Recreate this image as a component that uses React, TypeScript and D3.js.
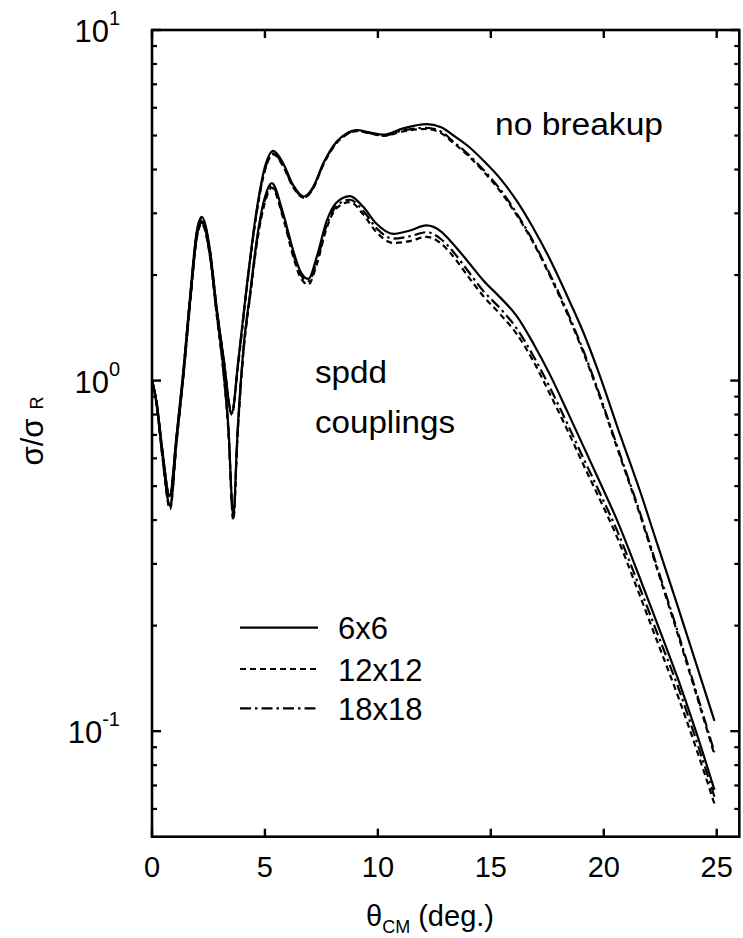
import React from 'react';
import * as d3 from 'd3';

// ---- data ----
const thetaNB = [0, 0.2, 0.45, 0.78, 1.09, 1.39, 1.68, 1.98, 2.2, 2.57, 2.86, 3.16, 3.53, 3.82, 4.19, 4.63, 5.0, 5.37, 5.81, 6.25, 6.73, 7.14, 7.58, 8.17, 8.62, 9.06, 9.65, 10.24, 11.12, 12.15, 12.8, 13.33, 14.0, 14.66, 15.4, 16.14, 16.87, 17.6, 18.35, 19.08, 19.82, 20.6, 21.6, 22.4, 23.2, 24.1, 24.9];
const nb6x6 = [1.0, 0.87, 0.64, 0.47, 0.70, 1.07, 1.72, 2.66, 2.93, 2.35, 1.62, 1.17, 0.81, 1.14, 1.85, 3.06, 4.07, 4.52, 4.16, 3.61, 3.35, 3.57, 4.16, 4.8, 5.07, 5.18, 5.1, 5.03, 5.24, 5.39, 5.28, 5.01, 4.66, 4.25, 3.78, 3.26, 2.73, 2.23, 1.76, 1.38, 1.035, 0.738, 0.485, 0.337, 0.235, 0.155, 0.107];
const nb12x12 = [1.0, 0.87, 0.635, 0.465, 0.69, 1.06, 1.70, 2.61, 2.87, 2.32, 1.6, 1.16, 0.8, 1.12, 1.82, 3.0, 3.98, 4.42, 4.08, 3.56, 3.32, 3.54, 4.12, 4.76, 5.03, 5.15, 5.07, 4.99, 5.14, 5.22, 5.08, 4.77, 4.38, 3.96, 3.48, 2.97, 2.48, 2.0, 1.57, 1.21, 0.9, 0.64, 0.415, 0.285, 0.196, 0.127, 0.0856];
const nb18x18 = [1.0, 0.87, 0.638, 0.468, 0.695, 1.065, 1.71, 2.63, 2.9, 2.33, 1.61, 1.165, 0.805, 1.13, 1.83, 3.02, 4.0, 4.45, 4.1, 3.58, 3.33, 3.55, 4.14, 4.78, 5.05, 5.16, 5.08, 5.0, 5.17, 5.26, 5.13, 4.81, 4.42, 4.0, 3.52, 3.0, 2.5, 2.02, 1.59, 1.225, 0.91, 0.648, 0.42, 0.289, 0.199, 0.129, 0.087];

const thetaSP = [0, 0.2, 0.45, 0.8, 1.09, 1.39, 1.68, 1.98, 2.2, 2.57, 2.86, 3.16, 3.38, 3.6, 3.78, 4.04, 4.34, 4.7, 5.0, 5.3, 5.81, 6.25, 6.55, 6.92, 7.29, 7.73, 8.17, 8.76, 9.35, 9.94, 10.68, 11.42, 12.15, 12.8, 13.19, 14.0, 14.67, 15.4, 16.14, 16.9, 17.6, 18.4, 19.1, 19.8, 20.6, 21.5, 22.4, 23.3, 24.1, 24.9];
const sp6x6 = [1.0, 0.86, 0.62, 0.44, 0.68, 1.04, 1.66, 2.58, 2.85, 2.28, 1.58, 1.08, 0.74, 0.41, 0.70, 1.22, 1.77, 2.68, 3.34, 3.66, 2.99, 2.35, 2.06, 1.95, 2.25, 2.85, 3.22, 3.36, 3.13, 2.8, 2.62, 2.68, 2.77, 2.66, 2.51, 2.18, 1.93, 1.73, 1.53, 1.27, 1.045, 0.813, 0.649, 0.518, 0.398, 0.284, 0.2, 0.14, 0.099, 0.068];
const sp12x12 = [1.0, 0.86, 0.615, 0.43, 0.67, 1.03, 1.64, 2.54, 2.8, 2.25, 1.55, 1.06, 0.72, 0.40, 0.68, 1.19, 1.73, 2.6, 3.22, 3.55, 2.9, 2.26, 1.98, 1.88, 2.14, 2.72, 3.1, 3.23, 2.98, 2.65, 2.47, 2.5, 2.57, 2.46, 2.32, 1.98, 1.74, 1.55, 1.36, 1.13, 0.92, 0.72, 0.575, 0.462, 0.356, 0.253, 0.178, 0.125, 0.089, 0.062];
const sp18x18 = [1.0, 0.86, 0.618, 0.435, 0.675, 1.035, 1.65, 2.56, 2.82, 2.26, 1.56, 1.07, 0.73, 0.405, 0.69, 1.2, 1.75, 2.64, 3.28, 3.6, 2.94, 2.3, 2.02, 1.92, 2.18, 2.77, 3.15, 3.28, 3.05, 2.72, 2.54, 2.58, 2.65, 2.53, 2.39, 2.05, 1.8, 1.61, 1.41, 1.17, 0.96, 0.75, 0.6, 0.482, 0.372, 0.266, 0.188, 0.133, 0.094, 0.065];

const xTicks = [0, 5, 10, 15, 20, 25];
const yMajor = [0.1, 1, 10];
const yMajorExp = ['-1', '0', '1'];
const legendLabels = ['6x6', '12x12', '18x18'];
const annotations = ['no breakup', 'spdd', 'couplings'];

const FONT = '"Liberation Sans", Arial, Helvetica, sans-serif';
const DASH = ['', '6,4', '11,4,2.5,4'];

export default function App() {
  const W = 743, H = 938;
  const L = 152, R = 739.3, T = 30, B = 836.7;
  const x = d3.scaleLinear().domain([0, 26]).range([L, R]);
  const y = d3.scaleLog().domain([0.05, 10]).range([B, T]);

  const line = d3
    .line<[number, number]>()
    .x((d) => x(d[0]))
    .y((d) => y(d[1]))
    .curve(d3.curveMonotoneX);

  const zip = (t: number[], v: number[]) => t.map((tt, i) => [tt, v[i]] as [number, number]);

  const series = [
    { d: zip(thetaNB, nb12x12), dash: DASH[1] },
    { d: zip(thetaNB, nb18x18), dash: DASH[2] },
    { d: zip(thetaNB, nb6x6), dash: DASH[0] },
    { d: zip(thetaSP, sp12x12), dash: DASH[1] },
    { d: zip(thetaSP, sp18x18), dash: DASH[2] },
    { d: zip(thetaSP, sp6x6), dash: DASH[0] },
  ];

  const allY = y.ticks();
  const minor = allY.filter((v) => !yMajor.some((m) => Math.abs(m - v) < 1e-9) && v > 0.05 + 1e-9 && v < 10 - 1e-9);

  const legendY = [627.7, 669, 708.3];

  return (
    <svg
      width={W}
      height={H}
      style={{ position: 'absolute', left: 0, top: 0, background: '#fff' }}
      fontFamily={FONT}
    >
      <rect x={0} y={0} width={W} height={H} fill="#fff" />
      {/* curves */}
      {series.map((s, i) => (
        <path
          key={i}
          d={line(s.d) || ''}
          fill="none"
          stroke="#000"
          strokeWidth={2.2}
          strokeDasharray={s.dash || undefined}
          strokeLinejoin="round"
        />
      ))}
      {/* frame */}
      <rect x={L} y={T} width={R - L} height={B - T} fill="none" stroke="#000" strokeWidth={2.6} />
      {/* x ticks */}
      {xTicks.map((v) => (
        <g key={'xt' + v}>
          <line x1={x(v)} x2={x(v)} y1={B} y2={B - 8} stroke="#000" strokeWidth={2.4} />
          <line x1={x(v)} x2={x(v)} y1={T} y2={T + 8} stroke="#000" strokeWidth={2.4} />
          <text x={x(v)} y={877} fontSize={29} textAnchor="middle">
            {v}
          </text>
        </g>
      ))}
      {/* y ticks */}
      {yMajor.map((v, i) => (
        <g key={'ym' + v}>
          <line x1={L} x2={L + 9} y1={y(v)} y2={y(v)} stroke="#000" strokeWidth={2.4} />
          <line x1={R} x2={R - 9} y1={y(v)} y2={y(v)} stroke="#000" strokeWidth={2.4} />
          <text x={120} y={y(v) + 12} fontSize={31} textAnchor="end">
            10
            <tspan dy={-17} fontSize={20}>
              {yMajorExp[i]}
            </tspan>
          </text>
        </g>
      ))}
      {minor.map((v) => (
        <g key={'yn' + v}>
          <line x1={L} x2={L + 5} y1={y(v)} y2={y(v)} stroke="#000" strokeWidth={2.2} />
          <line x1={R} x2={R - 5} y1={y(v)} y2={y(v)} stroke="#000" strokeWidth={2.2} />
        </g>
      ))}
      {/* axis titles */}
      <text x={430} y={926} fontSize={29} textAnchor="middle">
        θ
        <tspan dy={7} fontSize={18}>
          CM
        </tspan>
        <tspan dy={-7} fontSize={29}>
          {' (deg.)'}
        </tspan>
      </text>
      <text transform="translate(43,431) rotate(-90)" fontSize={31} textAnchor="middle">
        σ/σ
        <tspan dx={9} fontSize={18}>
          R
        </tspan>
      </text>
      {/* annotations */}
      <text x={495} y={135} fontSize={31} textLength={168} lengthAdjust="spacingAndGlyphs">
        {annotations[0]}
      </text>
      <text x={315} y={383} fontSize={31} textLength={72} lengthAdjust="spacingAndGlyphs">
        {annotations[1]}
      </text>
      <text x={315} y={433} fontSize={31} textLength={140} lengthAdjust="spacingAndGlyphs">
        {annotations[2]}
      </text>
      {/* legend */}
      {legendLabels.map((lab, i) => (
        <g key={lab}>
          <line
            x1={240}
            x2={318}
            y1={legendY[i]}
            y2={legendY[i]}
            stroke="#000"
            strokeWidth={2.2}
            strokeDasharray={DASH[i] || undefined}
          />
          <text x={338} y={legendY[i] + 11.5} fontSize={31}>
            {lab}
          </text>
        </g>
      ))}
    </svg>
  );
}
